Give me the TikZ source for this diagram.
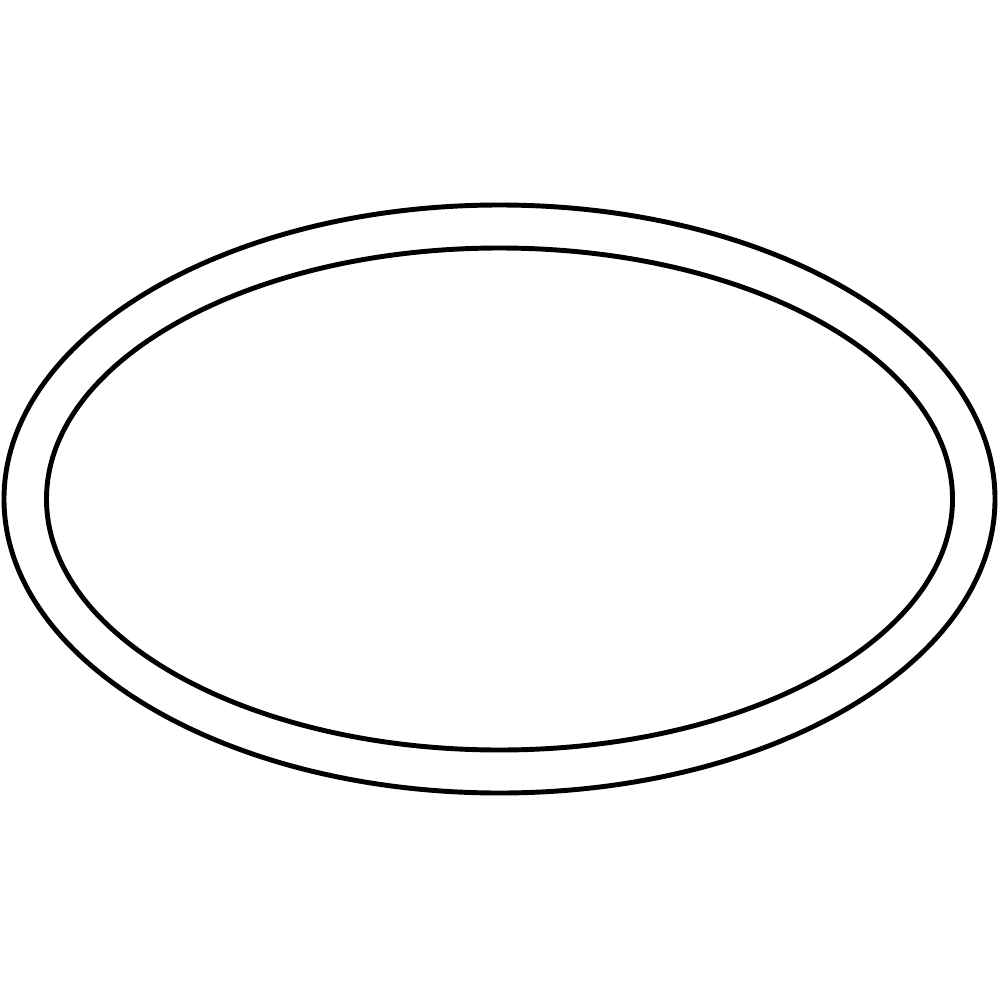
\documentclass[tikz,border=0pt]{standalone}
\usepackage{tikz}
\usetikzlibrary{arrows.meta}

\begin{document}
\begin{tikzpicture}[x=0.01cm,y=-0.01cm,rim/.style={draw=black,line width=1.4pt}]
		\useasboundingbox (0,0) rectangle (999,1000);
		\coordinate (c) at (499.5,499);
		\draw[rim] (c) ellipse [x radius=495.5, y radius=294];
		\draw[rim] (c) ellipse [x radius=453, y radius=251];
	\end{tikzpicture}
\end{document}
